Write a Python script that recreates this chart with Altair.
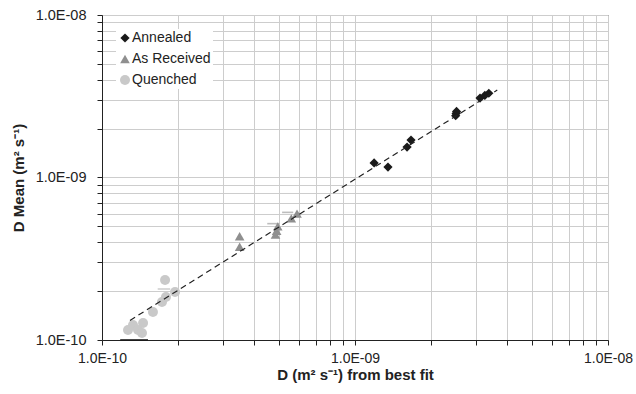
import altair as alt
import pandas as pd

series_names = ["Annealed", "As Received", "Quenched"]
series_colors = ["#1a1a1a", "#8f8f8f", "#c9c9c9"]
err_colors = ["#1a1a1a", "#bdbdbd", "#d0d0d0"]
series_shapes = ["diamond", "triangle-up", "circle"]
series_sizes = [85, 100, 125]

annealed_x = [1.19e-9, 1.35e-9, 1.606e-9, 1.665e-9, 2.50e-9, 2.51e-9, 2.52e-9, 3.12e-9, 3.26e-9, 3.38e-9]
annealed_y = [1.23e-9, 1.16e-9, 1.54e-9, 1.70e-9, 2.40e-9, 2.48e-9, 2.55e-9, 3.08e-9, 3.20e-9, 3.30e-9]

received_x = [3.5e-10, 3.5e-10, 4.85e-10, 4.9e-10, 4.95e-10, 5.6e-10, 5.9e-10]
received_y = [3.75e-10, 4.35e-10, 4.45e-10, 4.7e-10, 5.0e-10, 5.6e-10, 6.0e-10]

quenched_x = [1.267e-10, 1.326e-10, 1.388e-10, 1.453e-10, 1.439e-10, 1.59e-10, 1.726e-10, 1.79e-10, 1.775e-10, 1.944e-10]
quenched_y = [1.152e-10, 1.237e-10, 1.152e-10, 1.272e-10, 1.104e-10, 1.487e-10, 1.714e-10, 1.84e-10, 2.34e-10, 1.973e-10]

fit_x = [1.29e-10, 3.65e-9]
fit_y = [1.32e-10, 3.45e-9]

err_x1 = [1.18e-10, 1.66e-10, 4.5e-10, 5.15e-10]
err_x2 = [1.52e-10, 1.86e-10, 5.05e-10, 5.7e-10]
err_y = [1.0e-10, 2.06e-10, 5.2e-10, 6.1e-10]
err_series = ["Annealed", "Quenched", "As Received", "As Received"]

rows = []
for n, xs, ys in zip(series_names, [annealed_x, received_x, quenched_x], [annealed_y, received_y, quenched_y]):
    for a, b in zip(xs, ys):
        rows.append({"series": n, "x": a, "y": b})
pts = pd.DataFrame(rows)
fit = pd.DataFrame({"x": fit_x, "y": fit_y})
err = pd.DataFrame({"x1": err_x1, "x2": err_x2, "y": err_y, "eseries": err_series})

tick_vals = []
for k in [-10, -9]:
    for m in range(1, 10):
        tick_vals.append(m * 10.0 ** k)
tick_vals.append(1e-8)

lab = ("abs(log(datum.value)/LN10 - round(log(datum.value)/LN10)) < 0.01 ? "
       "'1.0E-' + (round(log(datum.value)/LN10) > -10 ? '0' : '') + (-round(log(datum.value)/LN10)) : ''")

font = "Liberation Sans"

def axis(title, pad, tpad, lsize):
    return alt.Axis(values=tick_vals, labelExpr=lab, title=title, grid=True,
                    gridColor="#cdcdcd", gridWidth=1, tickColor="#222", tickSize=5,
                    domainColor="#222", labelFontSize=lsize, labelFont=font, labelColor="#222",
                    titleFont=font, titleFontSize=15, titleFontWeight="bold", titleColor="#222",
                    labelPadding=pad, titlePadding=tpad, labelFlush=False, labelOverlap=False)

xs = alt.Scale(type="log", domain=[1e-10, 1e-8], nice=False)
ys = alt.Scale(type="log", domain=[1e-10, 1e-8], nice=False)

leg = alt.Legend(title=None, orient="none", legendX=14, legendY=14,
                 fillColor="white", padding=2, labelFont=font,
                 labelFontSize=14, labelColor="#222", rowPadding=7,
                 labelOffset=0, symbolStrokeWidth=0)

points = alt.Chart(pts).mark_point(filled=True, opacity=1, strokeWidth=0).encode(
    x=alt.X("x:Q", scale=xs, axis=axis("D (m² s⁻¹) from best fit", 6, 2, 14)),
    y=alt.Y("y:Q", scale=ys, axis=axis("D Mean (m² s⁻¹)", 11, 9, 14.5)),
    color=alt.Color("series:N", scale=alt.Scale(domain=series_names, range=series_colors), legend=leg),
    shape=alt.Shape("series:N", scale=alt.Scale(domain=series_names, range=series_shapes), legend=leg),
    size=alt.Size("series:N", scale=alt.Scale(domain=series_names, range=series_sizes), legend=leg),
)

errs = alt.Chart(err).mark_rule(strokeWidth=1.6).encode(
    x=alt.X("x1:Q", scale=xs), x2="x2:Q", y=alt.Y("y:Q", scale=ys),
    stroke=alt.Stroke("eseries:N", scale=alt.Scale(domain=series_names, range=err_colors), legend=None),
)

line = alt.Chart(fit).mark_line(color="#222", strokeDash=[6, 4], strokeWidth=1.2).encode(
    x=alt.X("x:Q", scale=xs), y=alt.Y("y:Q", scale=ys)
)

chart = alt.layer(errs, points, line).resolve_scale(stroke="independent").resolve_legend(stroke="independent").properties(
    width=506, height=325,
    autosize=alt.AutoSizeParams(type="none"),
    padding={"left": 102, "top": 15, "right": 28, "bottom": 54},
    background="white",
).configure_view(stroke="#444", strokeWidth=1)

chart.save("out.html", embed_options={"renderer": "svg", "actions": False})
